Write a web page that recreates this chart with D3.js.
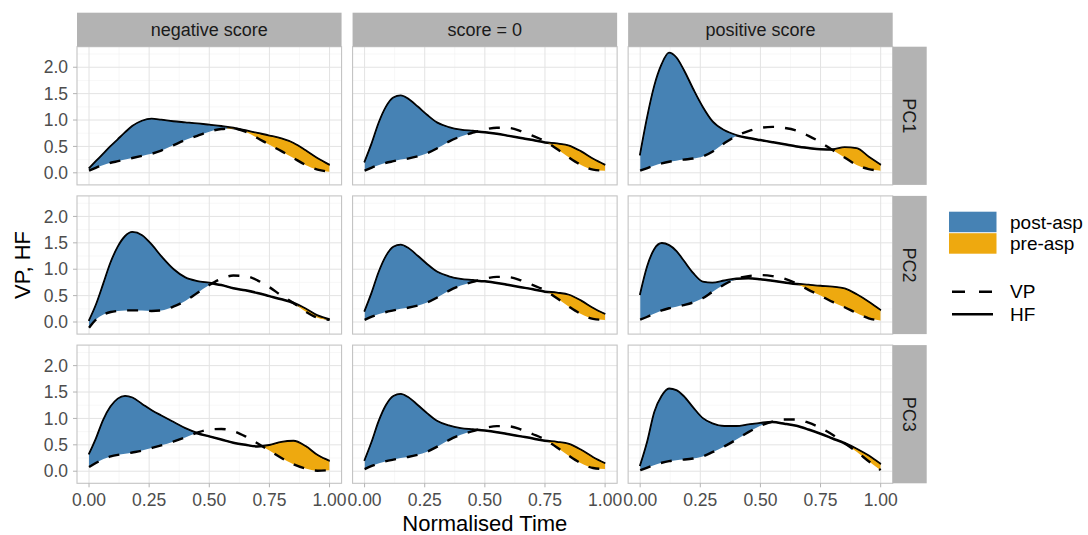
<!DOCTYPE html>
<html>
<head>
<meta charset="utf-8">
<script src="https://cdn.jsdelivr.net/npm/d3@7"></script>
<style>
  body { margin: 0; background: #fff; }
  svg text { font-family: "Liberation Sans", Arial, sans-serif; }
</style>
</head>
<body>
<script>
// facets
const columns = ['negative score', 'score = 0', 'positive score']
const rows = ['PC1', 'PC2', 'PC3']
const fillLabels = ['post-asp', 'pre-asp']
const lineLabels = ['VP', 'HF']
const xTicks = [0, 0.25, 0.5, 0.75, 1]
const yTicks = [0, 0.5, 1, 1.5, 2]
const aspTime = 0.575

// shared time grid (normalised)
const tGrid = [0, .03, .06, .09, .12, .15, .18, .22, .26, .30, .35, .40, .45, .50, .55, .60, .65, .70, .75, .80, .85, .90, .95, 1]

// score = 0 (same in every row)
const hfZero = [0.195, 0.55, 0.95, 1.25, 1.42, 1.46, 1.40, 1.25, 1.09, 0.95, 0.86, 0.81, 0.79, 0.77, 0.74, 0.70, 0.66, 0.62, 0.575, 0.55, 0.51, 0.40, 0.26, 0.145]
const vpZero = [0.04, 0.10, 0.15, 0.19, 0.22, 0.25, 0.27, 0.31, 0.37, 0.46, 0.59, 0.69, 0.76, 0.82, 0.855, 0.85, 0.79, 0.70, 0.60, 0.45, 0.29, 0.15, 0.06, 0.04]

// PC1
const hfPC1Neg = [0.08, 0.22, 0.36, 0.50, 0.63, 0.76, 0.88, 0.98, 1.02, 1.00, 0.97, 0.95, 0.93, 0.905, 0.88, 0.85, 0.80, 0.75, 0.70, 0.645, 0.56, 0.42, 0.27, 0.145]
const vpPC1Neg = [0.04, 0.10, 0.15, 0.19, 0.22, 0.25, 0.28, 0.32, 0.36, 0.42, 0.52, 0.62, 0.70, 0.78, 0.83, 0.84, 0.78, 0.66, 0.53, 0.41, 0.28, 0.15, 0.06, 0.02]
const hfPC1Pos = [0.33, 1.05, 1.65, 2.05, 2.27, 2.18, 1.95, 1.58, 1.24, 0.97, 0.80, 0.71, 0.66, 0.62, 0.58, 0.54, 0.50, 0.47, 0.445, 0.44, 0.48, 0.46, 0.30, 0.145]
const vpPC1Pos = [0.04, 0.09, 0.14, 0.18, 0.21, 0.23, 0.25, 0.27, 0.31, 0.40, 0.56, 0.70, 0.79, 0.85, 0.87, 0.85, 0.80, 0.70, 0.58, 0.43, 0.29, 0.15, 0.07, 0.04]

// PC2
const hfPC2Neg = [0.02, 0.33, 0.72, 1.12, 1.42, 1.62, 1.70, 1.64, 1.46, 1.24, 1.00, 0.84, 0.77, 0.74, 0.70, 0.64, 0.60, 0.55, 0.49, 0.43, 0.36, 0.25, 0.12, 0.05]
const vpPC2Neg = [-0.11, 0.05, 0.14, 0.19, 0.21, 0.22, 0.22, 0.22, 0.21, 0.22, 0.29, 0.40, 0.55, 0.70, 0.82, 0.88, 0.87, 0.79, 0.66, 0.50, 0.36, 0.20, 0.08, 0.04]
const hfPC2Pos = [0.51, 1.05, 1.38, 1.49, 1.45, 1.34, 1.16, 0.92, 0.76, 0.74, 0.78, 0.82, 0.83, 0.81, 0.78, 0.75, 0.72, 0.70, 0.68, 0.665, 0.63, 0.52, 0.38, 0.22]
const vpPC2Pos = [0.045, 0.10, 0.16, 0.22, 0.26, 0.29, 0.32, 0.37, 0.45, 0.57, 0.71, 0.82, 0.87, 0.89, 0.87, 0.82, 0.73, 0.61, 0.50, 0.38, 0.28, 0.17, 0.07, 0.03]

// PC3
const hfPC3Neg = [0.315, 0.62, 0.97, 1.22, 1.37, 1.42, 1.39, 1.27, 1.15, 1.05, 0.93, 0.81, 0.72, 0.66, 0.60, 0.54, 0.50, 0.47, 0.49, 0.55, 0.57, 0.47, 0.30, 0.19]
const vpPC3Neg = [0.08, 0.16, 0.23, 0.28, 0.31, 0.33, 0.355, 0.39, 0.44, 0.49, 0.56, 0.64, 0.73, 0.79, 0.80, 0.76, 0.66, 0.53, 0.39, 0.25, 0.13, 0.05, 0.01, 0.02]
const hfPC3Pos = [0.095, 0.55, 1.12, 1.42, 1.56, 1.53, 1.42, 1.20, 1.00, 0.90, 0.85, 0.85, 0.88, 0.91, 0.93, 0.90, 0.86, 0.79, 0.71, 0.62, 0.53, 0.42, 0.29, 0.13]
const vpPC3Pos = [0.02, 0.07, 0.12, 0.16, 0.19, 0.21, 0.22, 0.24, 0.28, 0.36, 0.47, 0.60, 0.74, 0.86, 0.94, 0.98, 0.98, 0.92, 0.82, 0.69, 0.53, 0.37, 0.19, 0.02]

const panelSeries = [
  [[vpPC1Neg, hfPC1Neg], [vpZero, hfZero], [vpPC1Pos, hfPC1Pos]],
  [[vpPC2Neg, hfPC2Neg], [vpZero, hfZero], [vpPC2Pos, hfPC2Pos]],
  [[vpPC3Neg, hfPC3Neg], [vpZero, hfZero], [vpPC3Pos, hfPC3Pos]]
]

const fillColors = ['#4682B4', '#EEA90F']

const width = 1088, height = 535
const svg = d3.select('body').append('svg')
  .attr('width', width).attr('height', height)

// layout
const plotLeft = 77, plotRight = 892.7, plotTop = 46.7, plotBottom = 483.3
const gap = 11, stripH = 34
const panelW = (plotRight - plotLeft - 2 * gap) / 3
const panelH = (plotBottom - plotTop - 2 * gap) / 3

let allVals = panelSeries.flat(2).flat()
let [yMin, yMax] = d3.extent(allVals)
let yPad = (yMax - yMin) * 0.05

const defs = svg.append('defs')
const curve = d3.curveMonotoneX

rows.forEach((rowName, ri) => {
  columns.forEach((colName, ci) => {
    const x0 = plotLeft + ci * (panelW + gap)
    const y0 = plotTop + ri * (panelH + gap)
    const x = d3.scaleLinear().domain([-0.05, 1.05]).range([x0, x0 + panelW])
    const y = d3.scaleLinear().domain([yMin - yPad, yMax + yPad]).range([y0 + panelH, y0])
    const [vp, hf] = panelSeries[ri][ci]
    const pts = tGrid.map((t, i) => ({t: t, vp: vp[i], hf: hf[i]}))
    const g = svg.append('g')
    const id = `p${ri}${ci}`

    // grid
    const minorX = [0.125, 0.375, 0.625, 0.875]
    const minorY = [0.25, 0.75, 1.25, 1.75, 2.25].filter(v => y(v) > y0)
    g.selectAll('.mx').data(minorX).enter().append('line')
      .attr('x1', d => x(d)).attr('x2', d => x(d)).attr('y1', y0).attr('y2', y0 + panelH)
      .attr('stroke', '#F2F2F2').attr('stroke-width', 0.6)
    g.selectAll('.my').data(minorY).enter().append('line')
      .attr('y1', d => y(d)).attr('y2', d => y(d)).attr('x1', x0).attr('x2', x0 + panelW)
      .attr('stroke', '#F2F2F2').attr('stroke-width', 0.6)
    g.selectAll('.gx').data(xTicks).enter().append('line')
      .attr('x1', d => x(d)).attr('x2', d => x(d)).attr('y1', y0).attr('y2', y0 + panelH)
      .attr('stroke', '#E3E3E3').attr('stroke-width', 1)
    g.selectAll('.gy').data(yTicks).enter().append('line')
      .attr('y1', d => y(d)).attr('y2', d => y(d)).attr('x1', x0).attr('x2', x0 + panelW)
      .attr('stroke', '#E3E3E3').attr('stroke-width', 1)

    // clip: region above VP
    defs.append('clipPath').attr('id', id + 'vp')
      .append('path')
      .attr('d', d3.area().curve(curve).x(d => x(d.t)).y0(d => y(d.vp)).y1(y0 - 5)(pts))
    const splitX = x(aspTime)
    defs.append('clipPath').attr('id', id + 'a')
      .append('rect').attr('x', x0 - 5).attr('y', y0 - 5).attr('width', splitX - x0 + 5).attr('height', panelH + 10)
    defs.append('clipPath').attr('id', id + 'b')
      .append('rect').attr('x', splitX).attr('y', y0 - 5).attr('width', x0 + panelW - splitX + 5).attr('height', panelH + 10)

    const hfLine = d3.line().curve(curve).x(d => x(d.t)).y(d => y(d.hf))
    const vpLine = d3.line().curve(curve).x(d => x(d.t)).y(d => y(d.vp))

    g.append('path').attr('d', hfLine(pts))
      .attr('fill', 'none').attr('stroke', '#000').attr('stroke-width', 2.5)

    const belowHF = d3.area().curve(curve).x(d => x(d.t)).y0(d => y(d.hf)).y1(y0 + panelH + 5)
    ;['a', 'b'].forEach((k, fi) => {
      g.append('g').attr('clip-path', `url(#${id}${k})`)
        .append('path')
        .attr('clip-path', `url(#${id}vp)`)
        .attr('d', belowHF(pts))
        .attr('fill', fillColors[fi])
    })

    g.append('path').attr('d', hfLine(pts))
      .attr('fill', 'none').attr('stroke', '#000').attr('stroke-width', 1.1)
    g.append('path').attr('d', vpLine(pts))
      .attr('fill', 'none').attr('stroke', '#000').attr('stroke-width', 2.4)
      .attr('stroke-dasharray', '11,11')

    // border
    g.append('rect').attr('x', x0).attr('y', y0).attr('width', panelW).attr('height', panelH)
      .attr('fill', 'none').attr('stroke', '#C4C4C4').attr('stroke-width', 1.1)

    // axes
    if (ci === 0) {
      g.selectAll('.yt').data(yTicks).enter().append('line')
        .attr('x1', x0 - 4).attr('x2', x0).attr('y1', d => y(d)).attr('y2', d => y(d))
        .attr('stroke', '#B3B3B3').attr('stroke-width', 1)
      g.selectAll('.yl').data(yTicks).enter().append('text')
        .attr('x', x0 - 9).attr('y', d => y(d)).attr('dy', '0.35em')
        .attr('text-anchor', 'end').attr('font-size', 17.5).attr('fill', '#4D4D4D')
        .text(d => d3.format('.1f')(d))
    }
    if (ri === rows.length - 1) {
      g.selectAll('.xt').data(xTicks).enter().append('line')
        .attr('y1', y0 + panelH).attr('y2', y0 + panelH + 4).attr('x1', d => x(d)).attr('x2', d => x(d))
        .attr('stroke', '#B3B3B3').attr('stroke-width', 1)
      g.selectAll('.xl').data(xTicks).enter().append('text')
        .attr('x', d => x(d)).attr('y', y0 + panelH + 23)
        .attr('text-anchor', 'middle').attr('font-size', 17.5).attr('fill', '#4D4D4D')
        .text(d => d3.format('.2f')(d))
    }

    // strips
    if (ri === 0) {
      svg.append('rect').attr('x', x0).attr('y', y0 - stripH).attr('width', panelW).attr('height', stripH)
        .attr('fill', '#B3B3B3')
      svg.append('text').attr('x', x0 + panelW / 2).attr('y', y0 - stripH / 2).attr('dy', '0.35em')
        .attr('text-anchor', 'middle').attr('font-size', 18).attr('fill', '#1A1A1A')
        .text(colName)
    }
    if (ci === columns.length - 1) {
      svg.append('rect').attr('x', x0 + panelW).attr('y', y0).attr('width', stripH).attr('height', panelH)
        .attr('fill', '#B3B3B3')
      svg.append('text')
        .attr('transform', `translate(${x0 + panelW + stripH / 2},${y0 + panelH / 2})rotate(90)`)
        .attr('dy', '0.35em')
        .attr('text-anchor', 'middle').attr('font-size', 18).attr('fill', '#1A1A1A')
        .text(rowName)
    }
  })
})

// axis titles
svg.append('text').attr('x', (plotLeft + plotRight) / 2).attr('y', 531)
  .attr('text-anchor', 'middle').attr('font-size', 22).attr('fill', '#000')
  .text('Normalised Time')
svg.append('text')
  .attr('transform', `translate(30,${(plotTop + plotBottom) / 2})rotate(-90)`)
  .attr('text-anchor', 'middle').attr('font-size', 22).attr('fill', '#000')
  .text('VP, HF')

// legend
const legend = svg.append('g').attr('transform', 'translate(949,211.7)')
fillLabels.forEach((lab, i) => {
  legend.append('rect').attr('x', 0).attr('y', i * 21.5).attr('width', 47.5).attr('height', 20.5)
    .attr('fill', fillColors[i])
  legend.append('text').attr('x', 61).attr('y', i * 21.5 + 10.5).attr('dy', '0.35em')
    .attr('font-size', 19).attr('fill', '#000').text(lab)
})
lineLabels.forEach((lab, i) => {
  const ly = 80 + i * 22.6
  legend.append('line').attr('x1', 3).attr('x2', 44).attr('y1', ly).attr('y2', ly)
    .attr('stroke', '#000').attr('stroke-width', 2.6)
    .attr('stroke-dasharray', lab === 'VP' ? '13,14' : null)
  legend.append('text').attr('x', 61).attr('y', ly).attr('dy', '0.35em')
    .attr('font-size', 19).attr('fill', '#000').text(lab)
})
</script>
</body>
</html>
